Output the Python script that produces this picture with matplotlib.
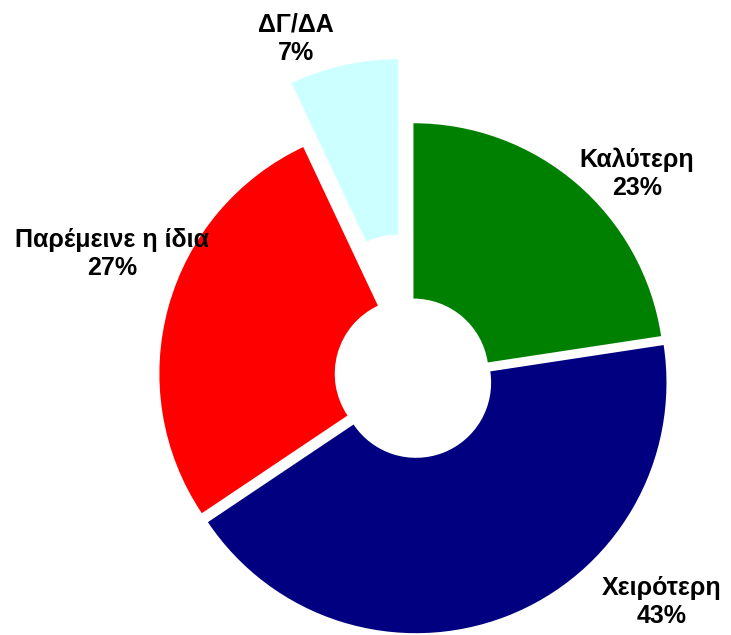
import matplotlib
matplotlib.use("Agg")
import matplotlib.pyplot as plt

# Data
categories = ["Καλύτερη", "Χειρότερη", "Παρέμεινε η ίδια", "ΔΓ/ΔΑ"]
values = [22.6, 43.0, 27.4, 7.0]
colors = ["#008000", "#000080", "#FF0000", "#CCFFFF"]
explode = [0.004, 0.035, 0.012, 0.265]

# label anchor positions in figure pixels (x from left, y from top)
label_px = [(637, 174), (662, 602), (112, 254), (296, 39)]

W, H = 731, 635
fig = plt.figure(figsize=(W / 100, H / 100), dpi=100)
ax = fig.add_axes([0, 0, 1, 1])

cx_px, cy_px, r_px = 412.8, 374.5, 250.5
ax.pie(values, colors=colors, explode=explode, startangle=90, counterclock=False,
       radius=1.0, wedgeprops=dict(width=0.70, linewidth=0))
ax.set_aspect("equal")
ax.set_xlim(-cx_px / r_px, (W - cx_px) / r_px)
ax.set_ylim(-(H - cy_px) / r_px, cy_px / r_px)
ax.axis("off")

total = sum(values)
for cat, v, (px, py) in zip(categories, values, label_px):
    fig.text(px / W, 1 - py / H, f"{cat}\n{v / total * 100:.0f}%",
             ha="center", va="center", fontsize=18, fontweight="bold",
             family=["Liberation Sans", "DejaVu Sans"], linespacing=1.22,
             color="black")

fig.savefig("out.png", dpi=100)
